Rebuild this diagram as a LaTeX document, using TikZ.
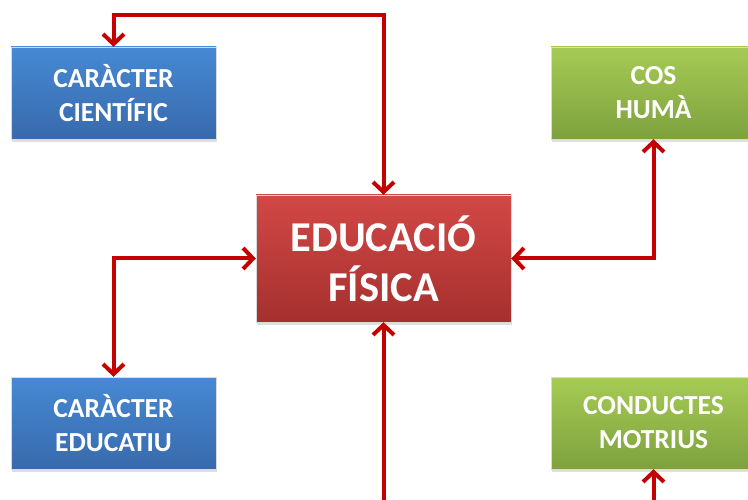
\documentclass[tikz,border=0pt]{standalone}
\usepackage{fontspec}
\setmainfont{Carlito}
\usetikzlibrary{arrows.meta, shadows}
\definecolor{boxblue}{RGB}{70, 137, 212}
\definecolor{boxbluedark}{RGB}{56, 106, 172}
\definecolor{boxgreen}{RGB}{166, 203, 84}
\definecolor{boxgreendark}{RGB}{126, 161, 62}
\definecolor{boxred}{RGB}{210, 72, 70}
\definecolor{boxreddark}{RGB}{165, 48, 46}
\definecolor{arrowred}{RGB}{196, 0, 0}
\tikzset{
  concept/.style={minimum width=205pt, minimum height=92pt, align=center,
    text=white, font=\fontsize{27.5}{34}\selectfont\bfseries,
    draw=black!15, line width=0.4pt,
    drop shadow={shadow xshift=1pt, shadow yshift=-3pt, opacity=0.25}},
  bluebox/.style={concept, top color=boxblue, bottom color=boxbluedark},
  greenbox/.style={concept, top color=boxgreen, bottom color=boxgreendark},
  mainbox/.style={concept, minimum width=255pt, minimum height=127pt,
    top color=boxred, bottom color=boxreddark,
    font=\fontsize{42.5}{50}\selectfont\bfseries},
  link/.style={draw=arrowred, line width=4pt,
    >={Straight Barb[length=10pt, width=21pt, line width=4pt]}}
}

\begin{document}
\begin{tikzpicture}[x=1pt, y=-1pt]
  \clip (0,0) rectangle (748,500);
  \fill[white] (0,0) rectangle (748,500);
  % concepts
  \node[mainbox] (edu) at (383.5,258.5) {EDUCACIÓ\\FÍSICA};
  \node[bluebox] (cien) at (113.5,93) {CARÀCTER\\CIENTÍFIC};
  \node[bluebox] (educ) at (113.5,423) {CARÀCTER\\EDUCATIU};
  \node[greenbox] (cos) at (653.5,93) {COS\\HUMÀ};
  \node[greenbox] (mot) at (653.5,423) {CONDUCTES\\MOTRIUS};
  % links
  \draw[link, <->] (cien.north) -- ++(0,-32) -| (edu.north);
  \draw[link, <->] (educ.north) |- (edu.west);
  \draw[link, <->] (cos.south) |- (edu.east);
  \draw[link, <-] (edu.south) -- ++(0,200);
  \draw[link, <-] (mot.south) -- ++(0,60);
\end{tikzpicture}
\end{document}
